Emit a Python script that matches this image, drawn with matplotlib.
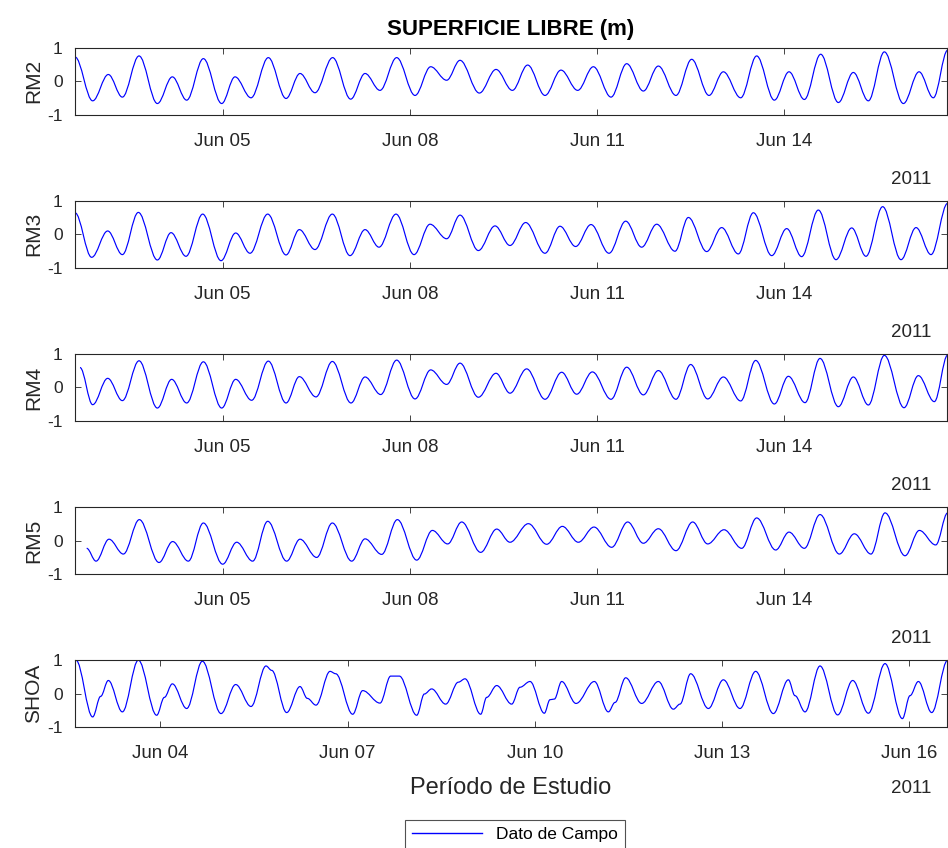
import numpy as np
import matplotlib
matplotlib.use("Agg")
import matplotlib.pyplot as plt
import matplotlib.dates as mdates
from matplotlib.path import Path
from matplotlib.patches import PathPatch
from matplotlib.lines import Line2D

plt.rcParams["font.family"] = ["Liberation Sans", "DejaVu Sans"]
plt.rcParams["axes.unicode_minus"] = False

# Water level turning points (m), time given as day of June 2011
rm2_day = [2.633, 2.916, 3.167, 3.392, 3.659, 3.953, 4.193, 4.423, 4.690, 4.984,
           5.197, 5.454, 5.731, 6.015, 6.239, 6.479, 6.762, 7.051, 7.281, 7.521,
           7.788, 8.082, 8.333, 8.589, 8.803, 9.113, 9.380, 9.642, 9.887, 10.165,
           10.421, 10.689, 10.940, 11.223, 11.474, 11.741, 11.981, 12.264, 12.515, 12.793,
           13.023, 13.301, 13.557, 13.840, 14.075, 14.321, 14.583, 14.866, 15.106, 15.347,
           15.603, 15.908, 16.159, 16.388, 16.618]
rm2_eta = [0.72, -0.58, 0.20, -0.47, 0.75, -0.66, 0.13, -0.56, 0.67, -0.66,
           0.13, -0.49, 0.70, -0.51, 0.23, -0.34, 0.70, -0.53, 0.23, -0.27,
           0.70, -0.42, 0.43, 0.03, 0.62, -0.35, 0.35, -0.27, 0.48, -0.42,
           0.33, -0.27, 0.43, -0.47, 0.52, -0.29, 0.45, -0.42, 0.65, -0.42,
           0.28, -0.49, 0.75, -0.56, 0.28, -0.54, 0.80, -0.63, 0.26, -0.58,
           0.87, -0.66, 0.28, -0.49, 0.92]

rm3_day = [2.633, 2.900, 3.157, 3.392, 3.648, 3.953, 4.172, 4.412, 4.679, 4.973,
           5.208, 5.438, 5.721, 6.015, 6.228, 6.479, 6.757, 7.040, 7.281, 7.505,
           7.777, 8.066, 8.322, 8.589, 8.803, 9.097, 9.364, 9.604, 9.855, 10.165,
           10.405, 10.656, 10.902, 11.191, 11.458, 11.714, 11.955, 12.248, 12.462, 12.756,
           12.996, 13.263, 13.504, 13.798, 14.038, 14.278, 14.545, 14.828, 15.080, 15.309,
           15.576, 15.870, 16.111, 16.351, 16.618]
rm3_eta = [0.64, -0.68, 0.10, -0.60, 0.65, -0.76, 0.05, -0.65, 0.60, -0.78,
           0.04, -0.56, 0.60, -0.61, 0.14, -0.45, 0.60, -0.63, 0.14, -0.38,
           0.60, -0.60, 0.30, -0.13, 0.57, -0.48, 0.25, -0.33, 0.35, -0.56,
           0.24, -0.36, 0.29, -0.56, 0.39, -0.38, 0.30, -0.50, 0.50, -0.51,
           0.20, -0.58, 0.64, -0.63, 0.17, -0.66, 0.72, -0.75, 0.19, -0.65,
           0.82, -0.75, 0.20, -0.60, 0.92]

rm4_day = [2.713, 2.916, 3.157, 3.392, 3.659, 3.953, 4.182, 4.423, 4.690, 4.984,
           5.208, 5.464, 5.731, 6.015, 6.228, 6.495, 6.757, 7.056, 7.281, 7.532,
           7.788, 8.082, 8.333, 8.589, 8.803, 9.097, 9.380, 9.604, 9.871, 10.165,
           10.432, 10.673, 10.924, 11.223, 11.474, 11.741, 11.981, 12.264, 12.499, 12.772,
           13.023, 13.301, 13.541, 13.840, 14.065, 14.332, 14.572, 14.866, 15.106, 15.347,
           15.603, 15.918, 16.148, 16.404, 16.618]
rm4_eta = [0.59, -0.51, 0.27, -0.39, 0.79, -0.61, 0.24, -0.46, 0.76, -0.61,
           0.24, -0.38, 0.78, -0.46, 0.32, -0.28, 0.77, -0.46, 0.31, -0.21,
           0.81, -0.34, 0.52, 0.09, 0.72, -0.29, 0.42, -0.17, 0.55, -0.35,
           0.45, -0.20, 0.46, -0.35, 0.60, -0.22, 0.50, -0.35, 0.68, -0.34,
           0.31, -0.40, 0.80, -0.49, 0.33, -0.45, 0.86, -0.57, 0.31, -0.52,
           0.95, -0.60, 0.35, -0.42, 0.96]

rm5_day = [2.820, 2.970, 3.178, 3.408, 3.664, 3.979, 4.198, 4.449, 4.690, 5.000,
           5.224, 5.480, 5.721, 6.025, 6.239, 6.506, 6.757, 7.067, 7.281, 7.548,
           7.799, 8.109, 8.360, 8.605, 8.830, 9.134, 9.391, 9.604, 9.898, 10.192,
           10.443, 10.699, 10.950, 11.233, 11.490, 11.741, 11.981, 12.264, 12.531, 12.772,
           13.034, 13.317, 13.557, 13.862, 14.075, 14.321, 14.572, 14.882, 15.122, 15.389,
           15.614, 15.934, 16.164, 16.426, 16.618]
rm5_eta = [-0.23, -0.61, 0.04, -0.40, 0.62, -0.65, -0.03, -0.61, 0.52, -0.70,
           -0.05, -0.61, 0.57, -0.61, 0.04, -0.50, 0.52, -0.61, 0.05, -0.41,
           0.62, -0.58, 0.30, -0.10, 0.55, -0.35, 0.34, -0.05, 0.50, -0.11,
           0.42, -0.05, 0.40, -0.20, 0.55, -0.08, 0.35, -0.30, 0.55, -0.10,
           0.32, -0.23, 0.67, -0.28, 0.25, -0.23, 0.77, -0.40, 0.20, -0.40,
           0.82, -0.45, 0.30, -0.13, 0.82]

shoa_day = [2.649, 2.916, 3.044, 3.167, 3.392, 3.648, 3.942, 4.065, 4.193, 4.423,
            4.674, 4.973, 5.208, 5.454, 5.694, 5.785, 6.025, 6.239, 6.356, 6.495,
            6.720, 6.811, 7.083, 7.243, 7.521, 7.692, 7.831, 8.109, 8.232, 8.349,
            8.573, 8.776, 8.883, 9.134, 9.230, 9.391, 9.631, 9.764, 9.925, 10.154,
            10.245, 10.315, 10.432, 10.662, 10.956, 11.180, 11.287, 11.458, 11.714, 11.981,
            12.222, 12.328, 12.499, 12.783, 13.023, 13.290, 13.541, 13.824, 14.065, 14.171,
            14.332, 14.572, 14.855, 15.096, 15.347, 15.614, 15.892, 16.014, 16.148, 16.362,
            16.618]
shoa_eta = [0.99, -0.69, -0.08, 0.39, -0.54, 0.99, -0.64, -0.11, 0.29, -0.44,
            0.96, -0.59, 0.27, -0.38, 0.82, 0.69, -0.56, 0.21, -0.14, -0.34,
            0.66, 0.59, -0.61, 0.09, -0.28, 0.52, 0.52, -0.64, -0.01, 0.14,
            -0.31, 0.34, 0.44, -0.61, -0.11, 0.24, -0.31, 0.19, 0.36, -0.58,
            -0.18, -0.16, 0.36, -0.29, 0.36, -0.54, -0.26, 0.47, -0.29, 0.36,
            -0.46, -0.31, 0.59, -0.44, 0.41, -0.44, 0.66, -0.59, 0.41, -0.06,
            -0.54, 0.82, -0.63, 0.39, -0.58, 0.89, -0.74, -0.06, 0.36, -0.56,
            0.99]

stations = ["RM2", "RM3", "RM4", "RM5", "SHOA"]
series_day = [rm2_day, rm3_day, rm4_day, rm5_day, shoa_day]
series_eta = [rm2_eta, rm3_eta, rm4_eta, rm5_eta, shoa_eta]
ticks_upper = [5, 8, 11, 14]
ticks_lower = [4, 7, 10, 13, 16]
day_span = [2.633, 16.607]

june0 = mdates.date2num(np.datetime64("2011-06-01"))


def to_num(day):
    return june0 + np.asarray(day, dtype=float) - 1


def tide_curve(ax, day, eta, h=0.36):
    # smooth line through the turning points (horizontal tangent at each one)
    t = to_num(day)
    v = np.asarray(eta, dtype=float)
    verts = [(t[0], v[0])]
    codes = [Path.MOVETO]
    for i in range(1, len(t)):
        dt = t[i] - t[i - 1]
        verts += [(t[i - 1] + h * dt, v[i - 1]), (t[i] - h * dt, v[i]), (t[i], v[i])]
        codes += [Path.CURVE4] * 3
    ax.add_patch(PathPatch(Path(verts, codes), fc="none", ec="b", lw=0.85))


W, H = 948, 848
fig = plt.figure(figsize=(W / 100, H / 100), dpi=100)
dark = "0.15"

for i, name in enumerate(stations):
    top = 47.5 + 153.1 * i
    ax = fig.add_axes([75 / W, 1 - (top + 67.5) / H, 872 / W, 67.5 / H])
    tide_curve(ax, series_day[i], series_eta[i])
    ax.set_xlim(to_num(day_span))
    ax.set_ylim(-1, 1)
    ax.set_yticks([-1, 0, 1])
    ax.set_yticklabels(["-1", "0", "1"])
    last = i == len(stations) - 1
    ax.set_xticks(to_num(ticks_lower if last else ticks_upper))
    ax.xaxis.set_major_formatter(mdates.DateFormatter("%b %d"))
    ax.tick_params(direction="in", top=True, right=True, length=4, width=0.6,
                   colors=dark)
    ax.tick_params(axis="x", pad=13, labelsize=13.5)
    ax.tick_params(axis="y", pad=9, labelsize=12.5)
    for sp in ax.spines.values():
        sp.set_color(dark)
        sp.set_linewidth(0.8)
    ax.set_ylabel(name, fontsize=15, color=dark, labelpad=3)
    ax.annotate("2011", xy=(0.9587, 0), xycoords="axes fraction",
                xytext=(0, -61 if last else -64), textcoords="offset pixels",
                ha="center", va="center", fontsize=13.5, color=dark)
    if i == 0:
        ax.set_title("SUPERFICIE LIBRE (m)", fontsize=16, fontweight="bold", pad=9)
    if last:
        ax.annotate("Período de Estudio", xy=(0.5, 0), xycoords="axes fraction",
                    xytext=(0, -61), textcoords="offset pixels",
                    ha="center", va="center", fontsize=17, color=dark)

handle = Line2D([], [], color="b", lw=1.0)
leg = fig.legend([handle], ["Dato de Campo"], loc="upper center",
                 bbox_to_anchor=(515 / W, 1 - 820 / H), fontsize=12.5,
                 handlelength=4.0, frameon=True, fancybox=False,
                 borderaxespad=0, borderpad=0.4)
leg.get_frame().set_edgecolor(dark)
leg.get_frame().set_linewidth(0.8)

fig.savefig("out.png", dpi=100)
